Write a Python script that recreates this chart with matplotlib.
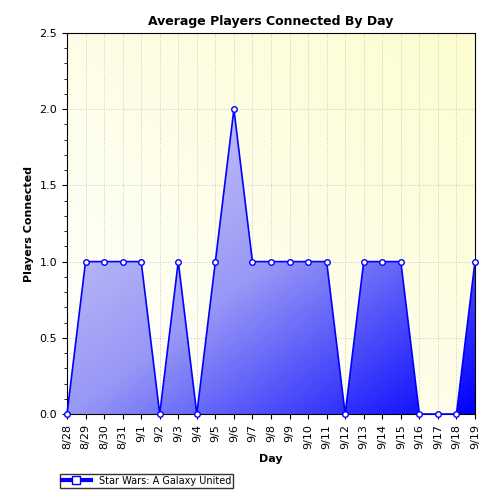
import numpy as np
import matplotlib.pyplot as plt
from matplotlib.colors import LinearSegmentedColormap
from matplotlib.lines import Line2D
from matplotlib.patches import Polygon

days = ["8/28", "8/29", "8/30", "8/31", "9/1", "9/2", "9/3", "9/4", "9/5", "9/6",
        "9/7", "9/8", "9/9", "9/10", "9/11", "9/12", "9/13", "9/14", "9/15", "9/16",
        "9/17", "9/18", "9/19"]
players = [0, 1, 1, 1, 1, 0, 1, 0, 1, 2, 1, 1, 1, 1, 1, 0, 1, 1, 1, 0, 0, 0, 1]
series_name = "Star Wars: A Galaxy United"

fig = plt.figure(figsize=(5, 5), dpi=100)
ax = fig.add_axes([0.134, 0.172, 0.816, 0.762])
x = np.arange(len(days))
n = len(days) - 1
ax.set_xlim(0, n)
ax.set_ylim(0, 2.5)

# background gradient white -> light yellow
yy, xx = np.mgrid[0:1:100j, 0:1:100j]
bg = np.clip((xx + yy) / 2, 0, 1)
bg_cmap = LinearSegmentedColormap.from_list("bg", ["#ffffff", "#fdfdd0"])
ax.imshow(bg, cmap=bg_cmap, extent=[0, n, 0, 2.5],
          origin="lower", aspect="auto", zorder=0)

# area gradient
fill_cmap = LinearSegmentedColormap.from_list("fill", ["#d4d4f6", "#9898f6", "#0000ff"])
g = np.clip((xx + (1 - yy)) / 2, 0, 1)
im = ax.imshow(g, cmap=fill_cmap, extent=[0, n, 0, 2],
               origin="lower", aspect="auto", zorder=2)
verts = [(0, 0)] + list(zip(x, players)) + [(n, 0)]
poly = Polygon(verts, closed=True, facecolor="none", edgecolor="none")
ax.add_patch(poly)
im.set_clip_path(poly)

ax.plot(x, players, color="#0000ff", lw=1.2, marker="o", ms=4,
        mfc="white", mec="#0000ff", zorder=3, clip_on=False)

ax.set_xticks(x)
ax.set_xticklabels(days, rotation=90, fontsize=8)
ax.set_yticks(np.arange(0, 2.51, 0.5))
ax.set_yticklabels([f"{v:.1f}" for v in np.arange(0, 2.51, 0.5)], fontsize=8)
ax.set_yticks(np.arange(0, 2.51, 0.1), minor=True)
ax.grid(True, which="major", linestyle=":", color="#c8c8c8", lw=0.7, zorder=1)
ax.set_axisbelow(True)
ax.set_title("Average Players Connected By Day", fontsize=9, fontweight="bold")
ax.set_xlabel("Day", fontsize=8, fontweight="bold")
ax.set_ylabel("Players Connected", fontsize=8, fontweight="bold")

handle = Line2D([], [], color="#0000ff", marker="s", mfc="white", mec="#0000ff", lw=3)
fig.legend([handle], [series_name], loc="lower left", bbox_to_anchor=(0.11, 0.015),
           fontsize=7, frameon=True, fancybox=False, edgecolor="black",
           borderpad=0.2, handlelength=3)

fig.savefig("out.png", dpi=100)
